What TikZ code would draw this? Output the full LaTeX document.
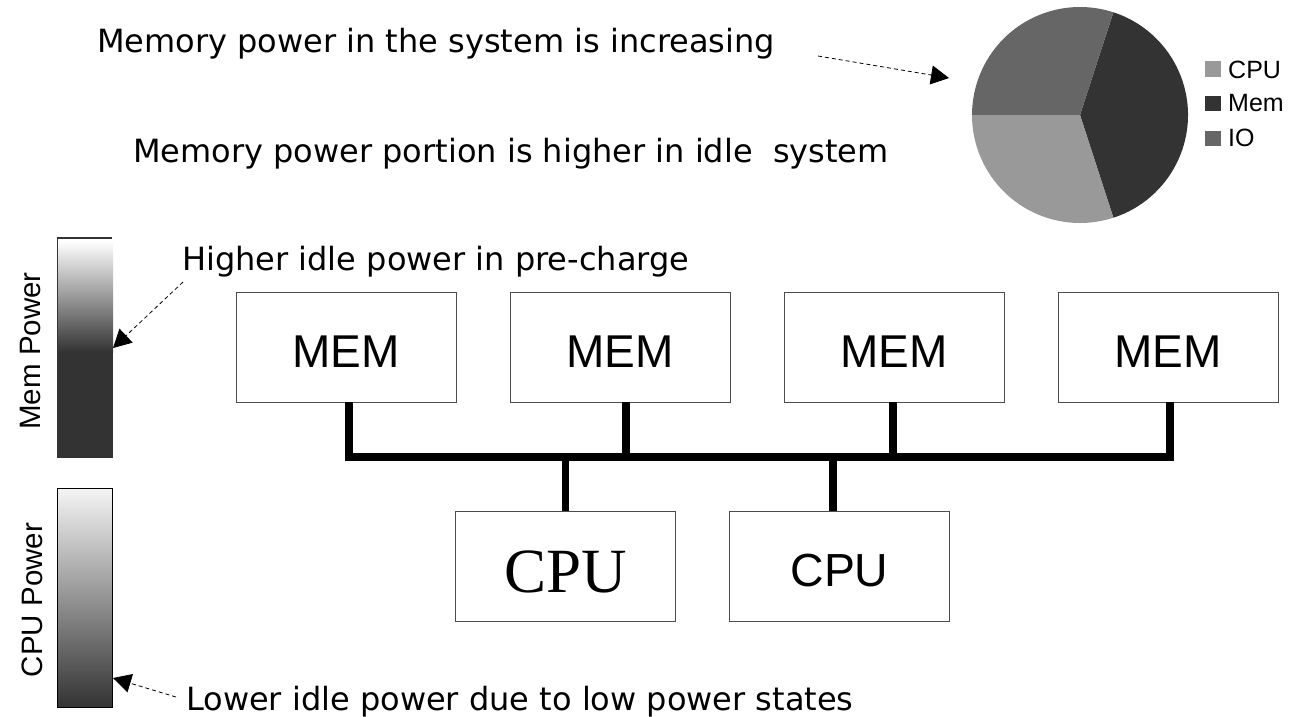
\documentclass[tikz,border=0pt]{standalone}
\usepackage{fontspec}
\setmainfont{DejaVu Sans}
\newfontfamily\arialf{Liberation Sans}
\newfontfamily\timesf{Liberation Serif}
\usetikzlibrary{arrows.meta}
\definecolor{dk}{HTML}{333333}
\definecolor{md}{HTML}{666666}
\definecolor{lt}{HTML}{999999}
\begin{document}
\begin{tikzpicture}[x=1pt,y=-1pt,
  box/.style={draw=black!70,line width=0.9pt,fill=white,minimum width=220pt,minimum height=110pt,inner sep=0pt,text depth=0pt},
  memtxt/.style={font=\arialf\fontsize{46}{50}\selectfont,text height=41pt},
  cpusans/.style={font=\arialf\fontsize{46.4}{50}\selectfont,text height=40pt},
  cpuserif/.style={font=\timesf\fontsize{63}{68}\selectfont,text height=51.5pt},
  bus/.style={line width=7.5pt,line join=miter,line cap=butt},
  note/.style={font=\fontsize{32}{36}\selectfont,inner sep=0pt,anchor=base west},
  vlabel/.style={font=\arialf\fontsize{29.5}{32}\selectfont,inner sep=0pt,anchor=base,rotate=90},
  legtxt/.style={font=\arialf\fontsize{25}{28}\selectfont,inner sep=0pt,anchor=base west},
  callout/.style={line width=0.8pt,dash pattern=on 4pt off 3pt,-{Triangle[length=18pt,width=19pt]}}]
\useasboundingbox (0,0) rectangle (1292,716);

% texts
\node[note] (t1) at (97,52) {Memory power in the system is increasing};
\node[note] (t2) at (133,162) {Memory power portion is higher in idle\ \ system};
\node[note] (t3) at (182,270) {Higher idle power in pre-charge};
\node[note] (t4) at (186,710) {Lower idle power due to low power states};

% pie chart
\coordinate (pc) at (1080,115);
\fill[dk] (pc) -- +(72:108) arc[start angle=72,end angle=-72,radius=108] -- cycle;
\fill[md] (pc) -- +(-72:108) arc[start angle=-72,end angle=-180,radius=108] -- cycle;
\fill[lt] (pc) -- +(-180:108) arc[start angle=-180,end angle=-288,radius=108] -- cycle;

% legend
\fill[lt] (1205,61) rectangle (1221,77);
\fill[dk] (1205,96) rectangle (1221,111);
\fill[md] (1205,131) rectangle (1221,146);
\node[legtxt] (l1) at (1228,78) {CPU};
\node[legtxt] (l2) at (1228,111) {Mem};
\node[legtxt] (l3) at (1228,146) {IO};

% power bars
\shade[top color=white,bottom color=dk] (57,241) rectangle (113,352);
\fill[dk] (57,352) rectangle (112,457);
\draw[dk,line width=0.8pt] (57,457) -- (57,238) (112,352) -- (112,457) -- (57,457);
\draw[dk,line width=2.5pt] (57,238) -- (112,238);
\shade[top color=black!4,bottom color=dk,draw=black,line width=0.8pt] (57,488) rectangle (112,707);
\node[vlabel] (v1) at (40,351) {Mem Power};
\node[vlabel] (v2) at (42,600) {CPU Power};

% boxes
\node[box,memtxt] (m1) at (346,347) {MEM};
\node[box,memtxt] (m2) at (620,347) {MEM};
\node[box,memtxt] (m3) at (894,347) {MEM};
\node[box,memtxt] (m4) at (1168,347) {MEM};
\node[box,cpuserif] (c1) at (565.5,566.5) {CPU};
\node[box,cpusans] (c2) at (839.5,566.5) {CPU};

% bus
\coordinate (busy) at (0,457);
\draw[bus] ([xshift=3pt]m1.south) -- ([xshift=3pt]m1.south |- busy) -- ([xshift=2pt]m4.south |- busy) -- ([xshift=2pt]m4.south);
\draw[bus] ([xshift=6pt]m2.south) -- ([xshift=6pt]m2.south |- busy);
\draw[bus] ([xshift=-1pt]m3.south) -- ([xshift=-1pt]m3.south |- busy);
\draw[bus] (c1.north |- busy) -- (c1.north);
\draw[bus] ([xshift=-6.5pt]c2.north |- busy) -- ([xshift=-6.5pt]c2.north);

% callouts
\coordinate (a1s) at (818,56);
\coordinate (a1e) at (949,78);
\coordinate (a2s) at (183,282);
\coordinate (a2e) at (113,348);
\coordinate (a3s) at (176,697);
\coordinate (a3e) at (113,678);
\draw[callout] (a1s) -- (a1e);
\draw[callout] (a2s) -- (a2e);
\draw[callout] (a3s) -- (a3e);
\end{tikzpicture}
\end{document}
